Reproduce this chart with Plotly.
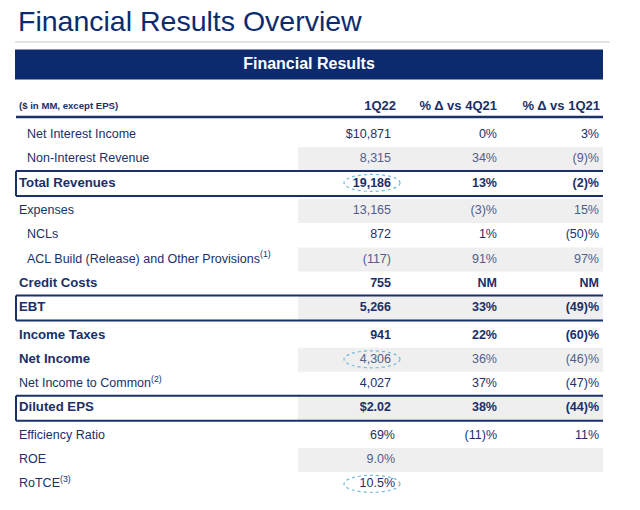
import plotly.graph_objects as go

# ---------------- data ----------------
title_text = "Financial Results Overview"
banner_text = "Financial Results"
unit_note = "($ in MM, except EPS)"
columns = ["1Q22", "% Δ vs 4Q21", "% Δ vs 1Q21"]

labels = [
    "Net Interest Income",
    "Non-Interest Revenue",
    "Total Revenues",
    "Expenses",
    "NCLs",
    "ACL Build (Release) and Other Provisions<sup>(1)</sup>",
    "Credit Costs",
    "EBT",
    "Income Taxes",
    "Net Income",
    "Net Income to Common<sup>(2)</sup>",
    "Diluted EPS",
    "Efficiency Ratio",
    "ROE",
    "RoTCE<sup>(3)</sup>",
]
q1_22 = ["$10,871", "8,315", "19,186", "13,165", "872", "(117)", "755", "5,266",
         "941", "4,306", "4,027", "$2.02", "69%", "9.0%", "10.5%"]
vs_4q21 = ["0%", "34%", "13%", "(3)%", "1%", "91%", "NM", "33%",
           "22%", "36%", "37%", "38%", "(11)%", "", ""]
vs_1q21 = ["3%", "(9)%", "(2)%", "15%", "(50)%", "97%", "NM", "(49)%",
           "(60)%", "(46)%", "(47)%", "(44)%", "11%", "", ""]

# ---------------- row styles ----------------
indented = [1, 1, 0, 0, 1, 1, 0, 0, 0, 0, 0, 0, 0, 0, 0]
bold_label = [0, 0, 1, 0, 0, 0, 1, 1, 1, 1, 0, 1, 0, 0, 0]
bold_value = [0, 0, 1, 0, 0, 0, 1, 1, 1, 0, 0, 1, 0, 0, 0]
boxed = [0, 0, 1, 0, 0, 0, 0, 1, 0, 0, 0, 1, 0, 0, 0]
shaded = [0, 1, 0, 1, 0, 1, 0, 1, 0, 1, 0, 1, 0, 1, 0]
circled = [0, 0, 1, 0, 0, 0, 0, 0, 0, 1, 0, 0, 0, 0, 1]

FONT = "Arial, Liberation Sans, sans-serif"
NAVY = "#0c2b6e"
TXT = "#1b2f68"
TXT_LIGHT = "#4f5e8a"
LINE = "#1a3068"
SHADE = "#efefef"

# layout geometry (pixel-like data units)
X_LEFT, X_RIGHT = 16, 603
X_LABEL, X_INDENT = 19, 27
COL_RIGHT = [391, 497, 599]
HEAD_RIGHT = [396, 497, 600]
PCT_HANG = 4
SHADE_X0 = 298
ROW0, STEP, BOX_GAP = 135, 24.2, 3.5
HEADER_Y = 107

row_y = []
extra = 0.0
for i in range(len(labels)):
    row_y.append(ROW0 + STEP * i + extra)
    if boxed[i]:
        extra += BOX_GAP

fig = go.Figure()
shapes = []

# title rule and banner
shapes.append(dict(type="line", x0=15, x1=610, y0=42, y1=42, xref="x", yref="y",
                   line=dict(color="#c9c9c9", width=1)))
shapes.append(dict(type="rect", x0=15, x1=X_RIGHT, y0=49.5, y1=79.5, xref="x", yref="y",
                   fillcolor=NAVY, line=dict(width=0), layer="below"))

# shading
for i, y in enumerate(row_y):
    if shaded[i]:
        shapes.append(dict(type="rect", x0=SHADE_X0, x1=X_RIGHT, y0=y - 12, y1=y + 12,
                           xref="x", yref="y", fillcolor=SHADE, line=dict(width=0), layer="below"))

# header rule
shapes.append(dict(type="line", x0=X_LEFT, x1=X_RIGHT, y0=117, y1=117, xref="x", yref="y",
                   line=dict(color=LINE, width=2.5)))

# boxes
for i, y in enumerate(row_y):
    if boxed[i]:
        for yy in (y - 12.5, y + 12.5):
            shapes.append(dict(type="line", x0=X_LEFT, x1=X_RIGHT, y0=yy, y1=yy, xref="x", yref="y",
                               line=dict(color=LINE, width=2)))
        shapes.append(dict(type="line", x0=X_LEFT, x1=X_LEFT, y0=y - 12.5, y1=y + 12.5,
                           xref="x", yref="y", line=dict(color=LINE, width=2)))

# dotted highlight circles
for i, y in enumerate(row_y):
    if circled[i]:
        shapes.append(dict(type="circle", x0=COL_RIGHT[0] - 47, x1=COL_RIGHT[0] + 9,
                           y0=y - 9, y1=y + 8, xref="x", yref="y",
                           line=dict(color="#74b9de", width=1.2, dash="dot")))

# banner text
fig.add_trace(go.Scatter(x=[(15 + X_RIGHT) / 2], y=[64.5], mode="text",
                         text=["<b>" + banner_text + "</b>"], textposition="middle center",
                         textfont=dict(family=FONT, size=16, color="white"), hoverinfo="skip"))

# header
fig.add_trace(go.Scatter(x=[X_LABEL], y=[HEADER_Y], mode="text",
                         text=["<b>" + unit_note + "</b>"], textposition="middle right",
                         textfont=dict(family=FONT, size=9.6, color=TXT), hoverinfo="skip"))
fig.add_trace(go.Scatter(x=HEAD_RIGHT, y=[HEADER_Y] * 3, mode="text",
                         text=["<b>" + c + "</b>" for c in columns], textposition="middle left",
                         textfont=dict(family=FONT, size=13, color=TXT), hoverinfo="skip"))

# labels
lab_x = [X_INDENT if indented[i] else X_LABEL for i in range(len(labels))]
lab_t = [("<b>%s</b>" % t) if bold_label[i] else t for i, t in enumerate(labels)]
lab_s = [13.2 if bold_label[i] else 12.5 for i in range(len(labels))]
fig.add_trace(go.Scatter(x=lab_x, y=row_y, mode="text", text=lab_t, textposition="middle right",
                         textfont=dict(family=FONT, size=lab_s, color=TXT), hoverinfo="skip"))

# values
for c, col in enumerate([q1_22, vs_4q21, vs_1q21]):
    idx = [i for i, v in enumerate(col) if v]
    xs, ys, txt, colors = [], [], [], []
    for i in idx:
        v = col[i]
        hang = PCT_HANG if (c == 0 and v.endswith("%")) else 0
        xs.append(COL_RIGHT[c] + hang)
        ys.append(row_y[i])
        txt.append(("<b>%s</b>" % v) if bold_value[i] else v)
        colors.append(TXT if (bold_value[i] or not shaded[i]) else TXT_LIGHT)
    fig.add_trace(go.Scatter(x=xs, y=ys, mode="text", text=txt, textposition="middle left",
                             textfont=dict(family=FONT, size=12.5, color=colors), hoverinfo="skip"))

fig.update_layout(
    width=640, height=510,
    margin=dict(l=0, r=0, t=0, b=0),
    paper_bgcolor="white", plot_bgcolor="white",
    showlegend=False,
    hovermode=False,
    shapes=shapes,
    title=dict(text=title_text, x=18 / 640, xanchor="left", xref="paper",
               y=1 - 21 / 510, yanchor="middle", yref="container",
               font=dict(family=FONT, size=28.5, color=NAVY)),
    xaxis=dict(range=[0, 640], visible=False, fixedrange=True),
    yaxis=dict(range=[510, 0], visible=False, fixedrange=True),
)

fig.write_html("out.html", config={"displayModeBar": False, "staticPlot": True},
               post_script="document.body.style.margin='0';")
